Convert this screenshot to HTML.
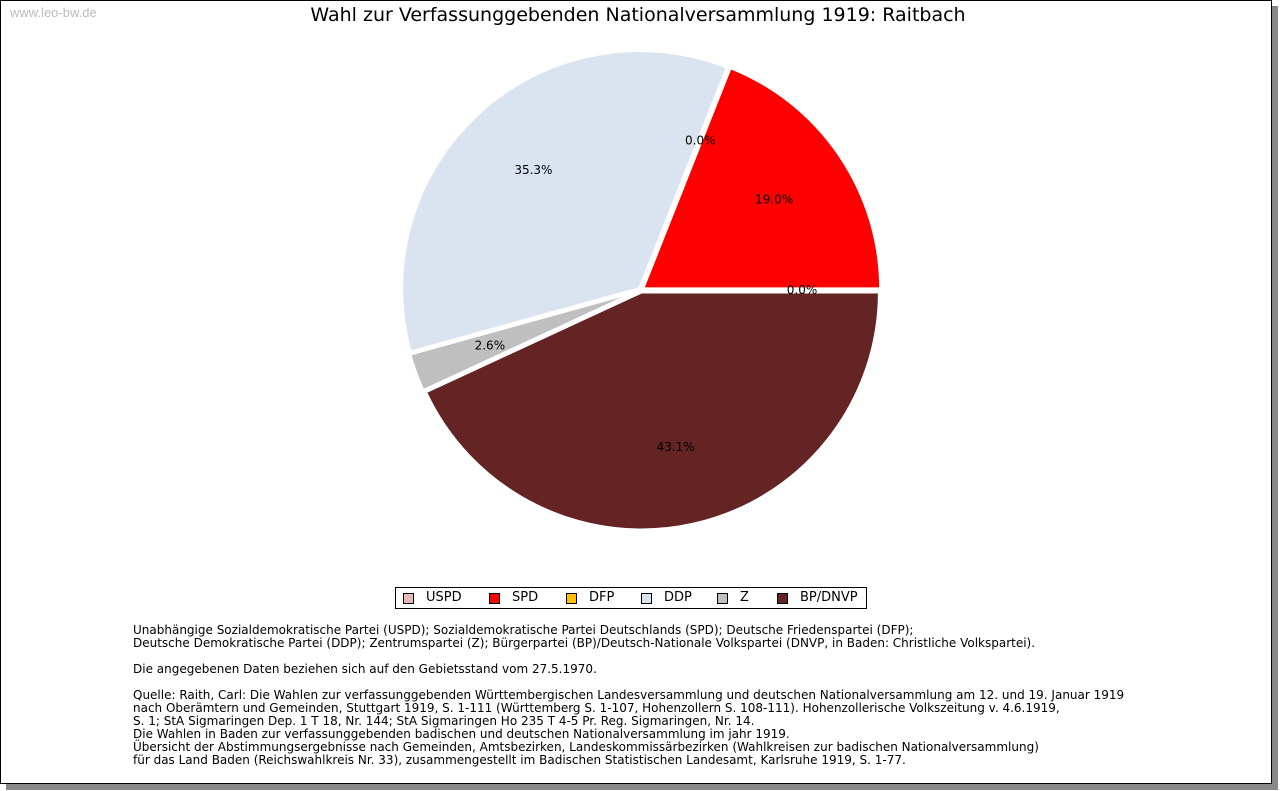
<!DOCTYPE html>
<html><head><meta charset="utf-8"><style>
body{margin:0;background:#fff;width:1280px;height:791px;overflow:hidden;font-family:"DejaVu Sans","Liberation Sans",sans-serif}
#frame{position:absolute;left:0;top:0;width:1270px;height:782px;border:1px solid #000;background:#fff;box-shadow:6px 6px 0 #888}
.t{position:absolute;font-size:12px;color:#000;white-space:nowrap}
</style></head><body>
<div id="frame">
<div class="t" style="left:9px;top:4px;color:#bbb;font-family:'Liberation Sans',sans-serif;font-size:13px">www.leo-bw.de</div>
<div class="t" style="left:0;width:1274px;text-align:center;top:3px;font-size:19px">Wahl zur Verfassunggebenden Nationalversammlung 1919: Raitbach</div>
<svg id="pie" width="1280" height="580" style="position:absolute;left:0;top:0"></svg>
<div style="position:absolute;left:394px;top:586px;width:470px;height:20px;border:1px solid #000"></div>
<div id="leg"></div>
<div class="t" style="left:132px;top:623px;line-height:13px;font-size:12px">Unabhängige Sozialdemokratische Partei (USPD); Sozialdemokratische Partei Deutschlands (SPD); Deutsche Friedenspartei (DFP);<br>Deutsche Demokratische Partei (DDP); Zentrumspartei (Z); Bürgerpartei (BP)/Deutsch-Nationale Volkspartei (DNVP, in Baden: Christliche Volkspartei).<br><br>Die angegebenen Daten beziehen sich auf den Gebietsstand vom 27.5.1970.<br><br>Quelle: Raith, Carl: Die Wahlen zur verfassunggebenden Württembergischen Landesversammlung und deutschen Nationalversammlung am 12. und 19. Januar 1919<br>nach Oberämtern und Gemeinden, Stuttgart 1919, S. 1-111 (Württemberg S. 1-107, Hohenzollern S. 108-111). Hohenzollerische Volkszeitung v. 4.6.1919,<br>S. 1; StA Sigmaringen Dep. 1 T 18, Nr. 144; StA Sigmaringen Ho 235 T 4-5 Pr. Reg. Sigmaringen, Nr. 14.<br>Die Wahlen in Baden zur verfassunggebenden badischen und deutschen Nationalversammlung im jahr 1919.<br>Übersicht der Abstimmungsergebnisse nach Gemeinden, Amtsbezirken, Landeskommissärbezirken (Wahlkreisen zur badischen Nationalversammlung)<br>für das Land Baden (Reichswahlkreis Nr. 33), zusammengestellt im Badischen Statistischen Landesamt, Karlsruhe 1919, S. 1-77.</div>
</div>
<script>
const parties=["USPD","SPD","DFP","DDP","Z","BP/DNVP"];
const shares=[0.0,19.0,0.0,35.3,2.6,43.1];
const colors=["#e6b8b7","#ff0000","#ffc000","#dae3f0","#bfbfbf","#632423"];
const legendX=[402,488,565,640,716,776];
const NS="http://www.w3.org/2000/svg";
const svg=document.getElementById('pie');
const cx=640,cy=289,R=238;
const total=shares.reduce((a,b)=>a+b,0);
let a0=0;
const labels=[];
shares.forEach((v,i)=>{
  const sweep=v/total*2*Math.PI;
  const a1=a0+sweep, mid=(a0+a1)/2;
  const ox=2*Math.cos(mid), oy=-2*Math.sin(mid);
  if(v>0){
    const x0=cx+ox+R*Math.cos(a0),y0=cy+oy-R*Math.sin(a0);
    const x1=cx+ox+R*Math.cos(a1),y1=cy+oy-R*Math.sin(a1);
    const p=document.createElementNS(NS,'path');
    p.setAttribute('d',`M${cx+ox},${cy+oy}L${x0},${y0}A${R},${R} 0 ${sweep>Math.PI?1:0} 0 ${x1},${y1}Z`);
    p.setAttribute('fill',colors[i]);p.setAttribute('stroke','#fff');p.setAttribute('stroke-width','3');
    
    
    svg.appendChild(p);
  }
  labels.push([v,mid,i]);
  a0=a1;
});
labels.forEach(([v,mid,i])=>{
  const lr=161;
  const t=document.createElementNS(NS,'text');
  t.setAttribute('x',cx+lr*Math.cos(mid));t.setAttribute('y',cy-lr*Math.sin(mid)+4);
  t.setAttribute('text-anchor','middle');t.setAttribute('font-size','12');
  t.setAttribute('font-family','DejaVu Sans, sans-serif');
  t.textContent=v.toFixed(1)+'%';
  
  
  svg.appendChild(t);
});
const leg=document.getElementById('leg');
parties.forEach((p,i)=>{
  const s=document.createElement('div');
  s.style.cssText=`position:absolute;left:${legendX[i]}px;top:592px;width:9px;height:9px;border:1px solid #000;background:${colors[i]}`;
  
  
  leg.appendChild(s);
  const t=document.createElement('div');
  t.className='t';t.style.left=(legendX[i]+23)+'px';t.style.top='589px';t.style.fontSize='13px';
  t.textContent=p;
  
  
  leg.appendChild(t);
});
</script>
</body></html>
